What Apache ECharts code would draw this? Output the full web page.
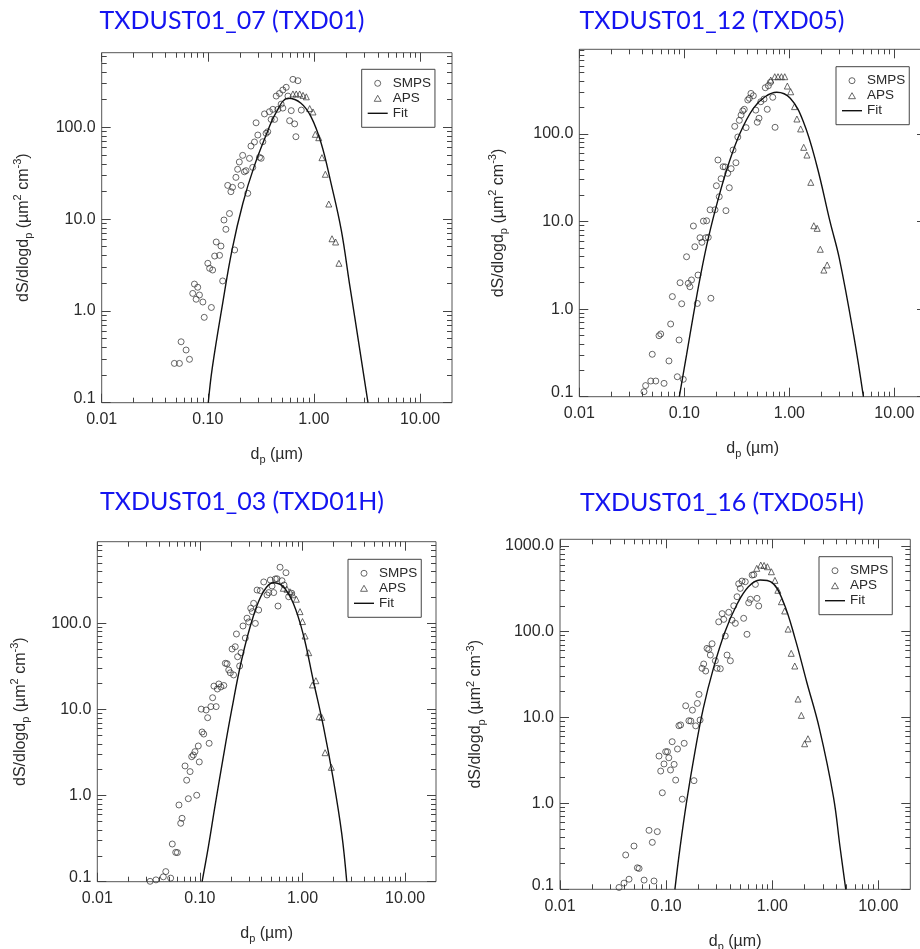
<!DOCTYPE html>
<html>
<head>
<meta charset="utf-8">
<script src="https://cdn.jsdelivr.net/npm/echarts@6/dist/echarts.min.js"></script>
<style>
  html, body { margin: 0; padding: 0; background: #fff; }
  #chart { width: 920px; height: 949px; }
</style>
</head>
<body>
<div id="chart"></div>
<script>
// panel titles
const titles = ['TXDUST01_07 (TXD01)', 'TXDUST01_12 (TXD05)', 'TXDUST01_03 (TXD01H)', 'TXDUST01_16 (TXD05H)'];

// axis ticks (dp in um, dS/dlogdp in um2 cm-3)
const xTicks = [0.01, 0.1, 1, 10];
const yTicks = [0.1, 1, 10, 100, 1000];
const xRange = [0.01, 20];
const yRanges = [[0.1, 650], [0.1, 925], [0.1, 889], [0.1, 1189]];

// TXD01 : [dp, dS/dlogdp]
const txd01Smps = [[0.0484,0.268],[0.054,0.268],[0.0672,0.297],[0.056,0.461],[0.0624,0.375],
  [0.0748,1.96],[0.0803,1.81],[0.0721,1.55],[0.0776,1.34],[0.0834,1.49],[0.0898,1.25],[0.108,1.09],[0.0925,0.851],
  [0.100,3.30],[0.104,2.91],[0.111,2.79],[0.120,5.63],[0.133,5.09],[0.116,3.96],[0.129,4.03],[0.138,2.12],
  [0.142,9.78],[0.160,11.5],[0.148,7.74],[0.179,4.61],[0.154,23.3],[0.171,22.2],[0.165,19.9],[0.184,28.5],[0.206,23.3],[0.238,19.1],
  [0.191,34.9],[0.198,41.9],[0.213,49.5],[0.221,32.8],[0.229,33.7],[0.247,45.9],[0.265,36.6],[0.255,62.5],[0.275,69.2],[0.296,82.4],
  [0.330,69.7],[0.307,47.1],[0.318,46.0],[0.285,112],[0.354,86.0],[0.367,89.5],[0.342,140],[0.381,148],[0.395,122],[0.426,122],
  [0.410,157],[0.441,219],[0.474,234],[0.509,255],[0.548,273],[0.457,157],[0.509,162],[0.491,179],[0.590,118],[0.611,152],
  [0.658,109],[0.676,79.0],[0.634,333],[0.706,322],[0.760,154],[0.569,219]];
const txd01Aps = [[0.634,231],[0.681,231],[0.734,231],[0.789,223],[0.848,215],[0.912,160],[0.980,147],[1.03,83.9],
  [1.11,77.1],[1.19,46.7],[1.28,30.8],[1.38,14.6],[1.48,6.11],[1.60,5.63],[1.72,3.30]];
const txd01Fit = [[0.101,0.1],[0.110,0.237],[0.138,1.21],[0.169,4.60],[0.214,14.9],[0.273,37.3],[0.360,86],[0.438,144],
  [0.573,207],[0.755,183],[0.940,130],[1.17,67],[1.45,24.5],[1.81,7.6],[2.16,2.0],[2.42,0.865],[3.23,0.1]];

// TXD05
const txd05Smps = [[0.0413,0.114],[0.0428,0.134],[0.0479,0.151],[0.0535,0.151],[0.0641,0.142],[0.0495,0.305],[0.0574,0.497],
  [0.0596,0.520],[0.0714,0.256],[0.0741,0.676],[0.0769,1.39],[0.0857,0.169],[0.0891,0.444],[0.0977,0.158],[0.0911,2.00],
  [0.0944,1.15],[0.105,3.96],[0.109,1.97],[0.113,1.80],[0.117,2.15],[0.133,1.16],[0.135,2.45],[0.122,8.89],[0.126,5.15],
  [0.141,6.53],[0.147,5.79],[0.160,6.53],[0.169,6.6],[0.152,10.1],[0.163,10.2],[0.179,1.33],[0.176,13.6],[0.196,13.6],
  [0.249,13.3],[0.202,25.6],[0.215,19.2],[0.224,30.8],[0.209,50.4],[0.234,42.2],[0.245,42],[0.259,35.5],[0.268,24.3],
  [0.279,40.1],[0.310,46.9],[0.291,65.5],[0.302,122],[0.323,92.2],[0.334,143],[0.347,164],[0.360,183],[0.372,191],
  [0.387,118],[0.402,244],[0.416,255],[0.431,290],[0.454,273],[0.479,187],[0.495,136],[0.514,151],[0.535,233],
  [0.574,250],[0.590,337],[0.631,355],[0.659,388],[0.616,191],[0.695,262],[0.731,119]];
const txd05Aps = [[0.665,412],[0.726,450],[0.780,450],[0.840,450],[0.904,450],[0.957,352],[1.03,303],[1.12,205],
  [1.18,148],[1.28,114],[1.37,70.3],[1.47,57.4],[1.60,28.0],[1.71,8.95],[1.84,8.36],[1.97,4.82],[2.13,2.79],[2.29,3.19]];
const txd05Fit = [[0.0896,0.1],[0.105,0.30],[0.122,0.857],[0.141,2.25],[0.169,6.43],[0.211,18.4],[0.262,44.2],
  [0.339,102],[0.454,196],[0.587,266],[0.759,299],[1.02,255],[1.36,138],[1.82,44.2],[2.44,9.95],[2.99,3.80],[4.1,0.5],[5.07,0.1]];

// TXD01H
const txd01hSmps = [[0.0327,0.101],[0.0373,0.105],[0.0440,0.114],[0.0465,0.131],[0.0519,0.110],
  [0.0538,0.274],[0.0581,0.219],[0.0603,0.218],[0.0625,0.778],[0.0650,0.477],[0.0670,0.545],[0.0716,2.21],[0.0743,1.51],
  [0.0771,0.920],[0.0802,1.90],[0.0832,2.83],[0.0863,2.96],[0.0895,3.24],[0.0931,1.01],[0.0964,3.77],[0.0986,2.46],
  [0.105,5.48],[0.109,5.19],[0.123,4.05],[0.119,8.03],[0.103,10.1],[0.115,9.87],[0.128,10.8],[0.144,10.8],[0.133,13.7],
  [0.137,18.7],[0.148,17.3],[0.153,19.8],[0.171,19.0],[0.160,18.3],[0.177,34.4],[0.184,34],[0.191,28.8],[0.198,26.7],
  [0.213,25.2],[0.206,50.4],[0.221,53.6],[0.227,75.3],[0.233,41.0],[0.244,32.0],[0.252,45.7],[0.263,93.3],[0.277,67.6],
  [0.288,115],[0.299,104],[0.313,150],[0.324,137],[0.334,171],[0.347,100],[0.374,143],[0.361,244],[0.388,240],
  [0.419,303],[0.451,214],[0.469,228],[0.486,319],[0.505,272],[0.524,228],[0.543,328],[0.564,330],[0.577,159],
  [0.604,449],[0.631,313],[0.661,279],[0.690,388],[0.733,204],[0.785,224]];
const txd01hAps = [[0.650,256],[0.706,249],[0.755,233],[0.807,215],[0.871,191],[0.946,137],[1.00,105],[1.06,71.4],
  [1.15,45.7],[1.25,19.3],[1.35,21.6],[1.45,8.25],[1.54,8.1],[1.66,3.15],[1.91,2.13]];
const txd01hFit = [[0.105,0.1],[0.121,0.255],[0.140,0.743],[0.167,2.59],[0.204,9.87],[0.255,37.6],[0.331,120],
  [0.415,233],[0.519,297],[0.650,267],[0.813,171],[1.02,73.3],[1.27,22.0],[1.60,6.31],[2.00,1.52],[2.41,0.365],[2.70,0.1]];

// TXD05H
const txd05hSmps = [[0.0360,0.105],[0.0401,0.118],[0.0447,0.131],[0.0416,0.251],[0.0498,0.319],[0.0536,0.178],
  [0.0556,0.175],[0.0620,0.128],[0.0769,0.125],[0.0690,0.486],[0.0741,0.352],[0.0826,0.469],[0.0857,3.56],[0.0889,2.38],
  [0.0921,1.33],[0.0955,2.88],[0.0991,4.00],[0.103,4.0],[0.106,3.40],[0.110,2.45],[0.114,5.23],[0.119,2.85],[0.123,1.87],
  [0.128,4.30],[0.132,8.03],[0.137,8.2],[0.142,1.12],[0.148,5.01],[0.153,13.7],[0.164,9.18],[0.171,9.1],[0.177,12.2],
  [0.183,1.84],[0.190,8.0],[0.197,14.6],[0.204,18.6],[0.209,9.35],[0.218,37.4],[0.226,42.0],[0.236,34.8],[0.243,63.9],
  [0.252,62],[0.261,53.4],[0.271,72.3],[0.291,45.8],[0.302,37.4],[0.324,37],[0.313,130],[0.337,162],[0.349,139],
  [0.361,88.9],[0.375,53.4],[0.403,45.8],[0.389,168],[0.418,136],[0.434,200],[0.449,125],[0.466,255],[0.483,361],
  [0.500,319],[0.519,388],[0.557,381],[0.538,143],[0.578,93.1],[0.600,217],[0.622,238],[0.646,456],[0.670,460],
  [0.694,355],[0.719,244],[0.746,199]];
const txd05hAps = [[0.715,546],[0.780,596],[0.838,590],[0.900,570],[0.982,498],[1.06,395],[1.13,303],[1.22,223],
  [1.31,174],[1.41,107],[1.51,55.9],[1.63,39.8],[1.75,16.4],[1.88,10.6],[2.02,4.95],[2.17,5.66]];
const txd05hFit = [[0.121,0.1],[0.135,0.300],[0.156,1.05],[0.187,4.0],[0.224,12.8],[0.279,37.4],[0.359,99.8],
  [0.462,204],[0.596,333],[0.768,399],[0.989,375],[1.27,223],[1.64,83.6],[2.11,26.1],[2.78,7.48],[3.77,1.20],[4.35,0.313],[4.93,0.1]];

const smpsSets = [txd01Smps, txd05Smps, txd01hSmps, txd05hSmps];
const apsSets = [txd01Aps, txd05Aps, txd01hAps, txd05hAps];
const fitSets = [txd01Fit, txd05Fit, txd01hFit, txd05hFit];

// layout of the four panels (pixels)
const layout = [
  { grid: { left: 101.7, top: 52.7, width: 350.3, height: 350 }, title: [232, 8], legend: [361.7, 69.3], yGap: 67 },
  { grid: { left: 579.3, top: 49.3, width: 346.7, height: 347.4 }, title: [712, 8], legend: [836, 66.7], yGap: 70 },
  { grid: { left: 97.3, top: 541.7, width: 338.7, height: 340 }, title: [242, 489], legend: [348, 559.3], yGap: 66 },
  { grid: { left: 560, top: 539.3, width: 350.3, height: 350 }, title: [722, 490], legend: [819, 556.7], yGap: 73 }
];

const lg = v => Math.log10(v);
const toLog = arr => arr.map(p => [lg(p[0]), lg(p[1])]);
const minorTicks = (lo, hi) => {
  const out = [];
  for (let e = -3; e <= 3; e++) {
    for (let m = 2; m <= 9; m++) {
      const v = m * Math.pow(10, e);
      if (v > lo * 1.0001 && v < hi * 0.9999) out.push(lg(v));
    }
  }
  return out;
};

const axisFont = 'Liberation Sans, Arial, sans-serif';
const ink = '#2a2a2a';
const tickColor = '#444';
const hollow = { color: 'rgba(255,255,255,0)', borderColor: '#2e2e2e', borderWidth: 0.9 };

const chart = echarts.init(document.getElementById('chart'));

const grids = [], xAxes = [], yAxes = [], series = [], legends = [], titleList = [];

layout.forEach((L, i) => {
  grids.push(Object.assign({ show: true, borderColor: '#555', borderWidth: 1, outerBoundsMode: 'none', containLabel: false }, L.grid));

  titleList.push({
    text: titles[i], left: L.title[0], top: L.title[1], textAlign: 'center', padding: 0,
    textStyle: { color: '#1414f0', fontFamily: 'Lato', fontSize: 25, fontWeight: 'normal' }
  });

  const xMajor = xTicks.filter(v => v >= xRange[0] && v <= xRange[1]).map(lg);
  const xMinor = minorTicks(xRange[0], xRange[1]);
  const yr = yRanges[i];
  const yMajor = yTicks.filter(v => v >= yr[0] && v <= yr[1]).map(lg);
  const yMinor = minorTicks(yr[0], yr[1]);

  const line = { show: false, onZero: false };
  const xBase = { type: 'value', gridIndex: i, min: lg(xRange[0]), max: lg(xRange[1]), splitLine: { show: false }, axisLine: line };
  const yBase = { type: 'value', gridIndex: i, min: lg(yr[0]), max: lg(yr[1]), splitLine: { show: false }, axisLine: line };
  const tick = (vals, len) => ({ show: true, inside: true, length: len, customValues: vals, lineStyle: { color: tickColor, width: 1 } });
  const noLabel = { show: false };

  xAxes.push(Object.assign({}, xBase, {
    position: 'bottom', axisTick: tick(xMajor, 9),
    axisLabel: { show: true, customValues: xMajor, formatter: v => Math.pow(10, v).toFixed(2), margin: 9, fontSize: 16, color: ink, fontFamily: axisFont },
    name: '{t|d}{s|p}{t| (µm)}', nameLocation: 'middle', nameGap: 41,
    nameTextStyle: { fontSize: 16, color: ink, fontFamily: axisFont,
      rich: { t: { fontSize: 16, lineHeight: 22, color: ink, fontFamily: axisFont }, s: { fontSize: 11, verticalAlign: 'bottom', color: ink, fontFamily: axisFont } } }
  }));
  xAxes.push(Object.assign({}, xBase, { position: 'bottom', axisTick: tick(xMinor, 5), axisLabel: noLabel }));
  xAxes.push(Object.assign({}, xBase, { position: 'top', axisTick: tick(xMajor, 9), axisLabel: noLabel }));
  xAxes.push(Object.assign({}, xBase, { position: 'top', axisTick: tick(xMinor, 5), axisLabel: noLabel }));

  const yMin = lg(yr[0]);
  yAxes.push(Object.assign({}, yBase, {
    position: 'left', axisTick: tick(yMajor, 9),
    axisLabel: {
      show: true, customValues: yMajor, margin: 6, fontSize: 16, color: ink, fontFamily: axisFont,
      // the lowest label sits a little above its tick in the original
      formatter: v => {
        const s = Math.pow(10, v).toFixed(1);
        return Math.abs(v - yMin) < 1e-9 ? '{lo|' + s + '}' : s;
      },
      rich: { lo: { fontSize: 16, color: ink, fontFamily: axisFont, padding: [0, 0, 8, 0] } }
    },
    name: '{t|dS/dlogd}{s|p}{t| (µm}{u|2}{t| cm}{u|-3}{t|)}', nameLocation: 'middle', nameGap: L.yGap,
    nameTextStyle: { fontSize: 16, color: ink, fontFamily: axisFont,
      rich: { t: { fontSize: 16, lineHeight: 22, color: ink, fontFamily: axisFont },
              s: { fontSize: 11, verticalAlign: 'bottom', color: ink, fontFamily: axisFont },
              u: { fontSize: 11, verticalAlign: 'top', color: ink, fontFamily: axisFont } } }
  }));
  yAxes.push(Object.assign({}, yBase, { position: 'left', axisTick: tick(yMinor, 5), axisLabel: noLabel }));
  yAxes.push(Object.assign({}, yBase, { position: 'right', axisTick: tick(yMajor, 9), axisLabel: noLabel }));
  yAxes.push(Object.assign({}, yBase, { position: 'right', axisTick: tick(yMinor, 5), axisLabel: noLabel }));

  const ax = { xAxisIndex: 4 * i, yAxisIndex: 4 * i };
  series.push(Object.assign({
    name: 'SMPS', type: 'scatter', data: toLog(smpsSets[i]), symbol: 'circle', symbolSize: 6,
    itemStyle: hollow, silent: true
  }, ax));
  series.push(Object.assign({
    name: 'APS', type: 'scatter', data: toLog(apsSets[i]), symbol: 'triangle', symbolSize: 6,
    itemStyle: hollow, silent: true
  }, ax));
  series.push(Object.assign({
    name: 'Fit', type: 'line', data: toLog(fitSets[i]), smooth: 0.4, symbol: 'none', showSymbol: false,
    lineStyle: { color: '#111', width: 1.4 }, itemStyle: { color: '#111' }, clip: true, silent: true
  }, ax));

  legends.push({
    orient: 'vertical', left: L.legend[0], top: L.legend[1],
    data: [
      { name: 'SMPS', icon: 'circle', itemStyle: hollow },
      { name: 'APS', icon: 'path://M5,0L10,8.7L0,8.7Z', itemStyle: hollow },
      { name: 'Fit', icon: 'path://M0,0H20V1.4H0Z', itemStyle: { color: '#111', borderWidth: 0 } }
    ],
    symbolKeepAspect: true,
    borderColor: '#444', borderWidth: 1, padding: [7, 4, 7, 6], itemGap: 1, itemWidth: 20, itemHeight: 6,
    textStyle: { fontSize: 13.5, color: ink, fontFamily: axisFont }, selectedMode: false
  });
});

chart.setOption({
  animation: false,
  backgroundColor: '#fff',
  title: titleList,
  grid: grids,
  xAxis: xAxes,
  yAxis: yAxes,
  legend: legends,
  series: series
});
</script>
</body>
</html>
